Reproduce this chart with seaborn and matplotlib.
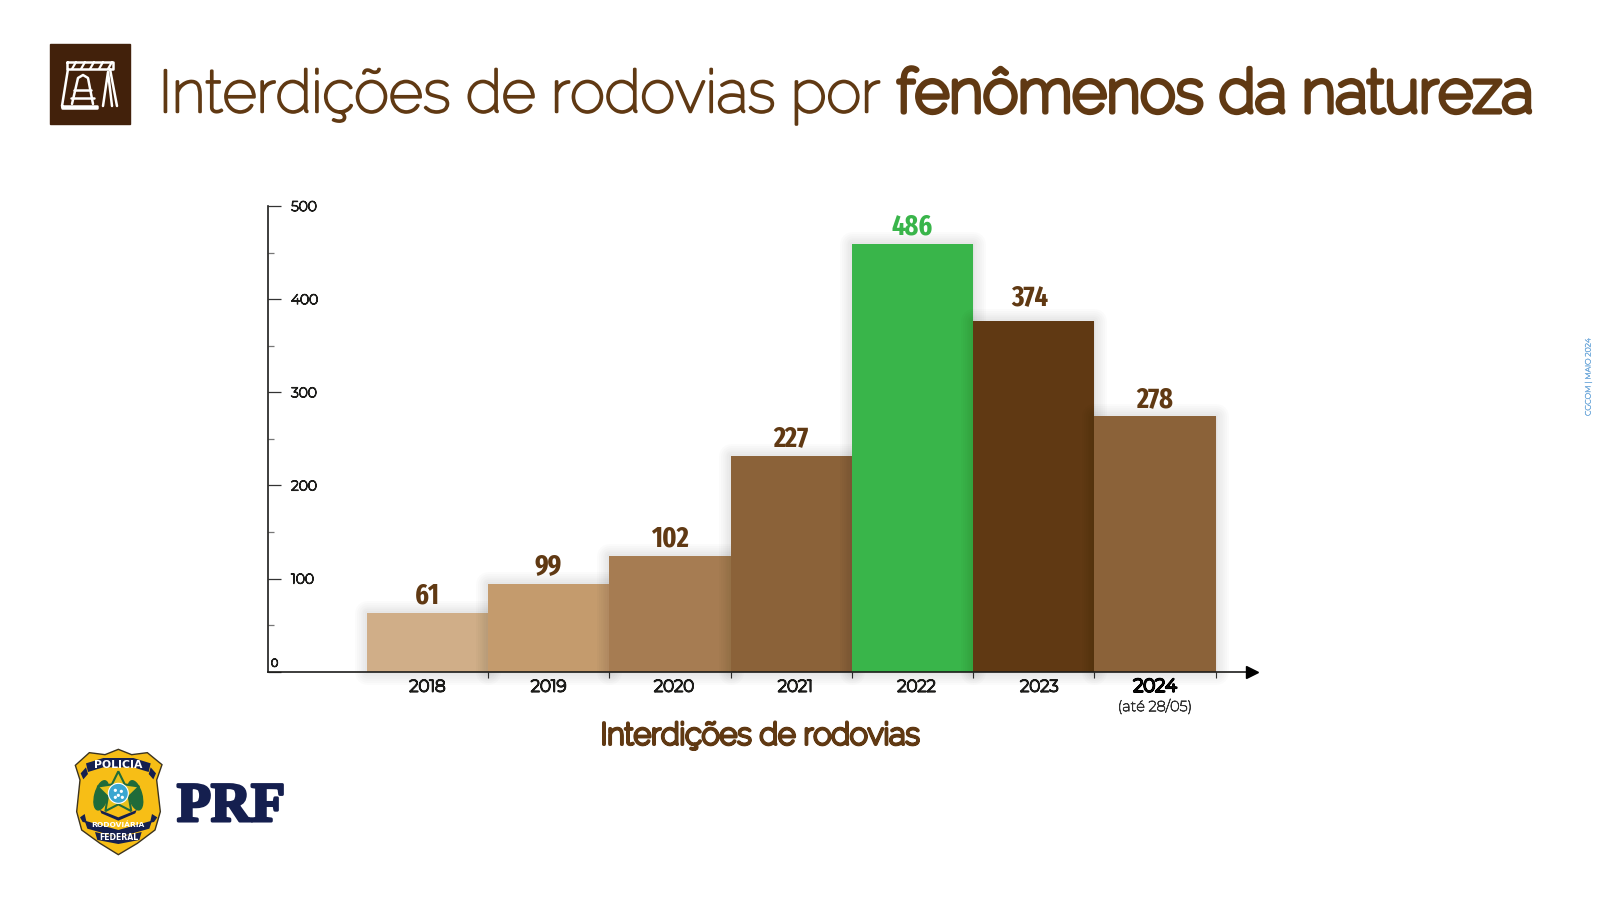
import numpy as np
import pandas as pd
import matplotlib
matplotlib.use("Agg")
import matplotlib.pyplot as plt
import matplotlib.patheffects as pe
from matplotlib.patches import Polygon, Rectangle, Circle, Ellipse
from matplotlib.ticker import FixedLocator
from matplotlib.transforms import ScaledTranslation
import seaborn as sns

# --- data -------------------------------------------------------------
years = ["2018", "2019", "2020", "2021", "2022", "2023", "2024"]
# Printed values
printed_values = ["61", "99", "102", "227", "486", "374", "278"]
# Bar heights as drawn in the source (not to scale with the printed values)
bar_heights = [63, 94, 124, 232, 459, 376, 274]
y_ticks = [0, 100, 200, 300, 400, 500]
y_minor_ticks = [50, 150, 250, 350, 450]
bar_colors = ["#D0AE88", "#C49B6D", "#A67C52", "#8B6239", "#39B54A", "#603913", "#8B6239"]

title_light = "Interdições de rodovias por"
title_bold = "fenômenos da natureza"
x_title = "Interdições de rodovias"
x_note = "(até 28/05)"
side_note = "CGCOM | MAIO 2024"

BROWN = "#603913"
DARK = "#42210B"
GREEN = "#39B54A"
INK = "#1d1d1b"
NAVY = "#151F4F"
GOLD = "#F7BE16"

RALEWAY = ["Raleway", "Lato", "DejaVu Sans"]
MONT = ["Montserrat", "Inter", "DejaVu Sans"]
CONDENSED = ["Fira Sans Extra Condensed", "Fira Sans Condensed", "Roboto Condensed", "DejaVu Sans"]

sns.set_theme(style="white")
plt.rcParams["font.family"] = MONT

def heavy(txt, lw, color):
    # these families load at their thinnest weight; a same-colour stroke gives the weight
    txt.set_path_effects([pe.withStroke(linewidth=lw, foreground=color)])
    return txt

W, H = 1600, 900
fig = plt.figure(figsize=(16, 9), dpi=100, facecolor="white")

# --- chart ------------------------------------------------------------
x0, x1, y_base, y_top = 267.5, 1252, 671.7, 206
ax = fig.add_axes([x0 / W, 1 - y_base / H, (x1 - x0) / W, (y_base - y_top) / H])
ax.patch.set_alpha(0)
df = pd.DataFrame({"year": years, "height": bar_heights})
sns.barplot(data=df, x="year", y="height", hue="year", palette=bar_colors,
            legend=False, width=1, saturation=1, ax=ax)
ax.set_xlim(-1.318, 6.80)
ax.set_ylim(0, 500)
ax.set_ylabel("")

# soft drop shadow around each bar, later bars falling over earlier ones
shadow = [pe.Stroke(linewidth=lw, foreground="black", alpha=0.017, joinstyle="round")
          for lw in (18, 15, 12, 9, 6, 3)] + [pe.Normal()]
for p in ax.patches:
    p.set_edgecolor("none")
    p.set_clip_on(False)
    p.set_path_effects(shadow)

# printed values
for i, (cont, lab) in enumerate(zip(ax.containers, printed_values)):
    col = GREEN if lab == "486" else BROWN
    for t in ax.bar_label(cont, labels=[lab], padding=7, color=col, fontsize=20.5,
                          fontweight="bold", family=CONDENSED):
        t.set_va("baseline")
        if lab == "374":
            t.xyann = (-3, 12)

# axes
sns.despine(ax=ax, top=True, right=True)
for s in ("left", "bottom"):
    ax.spines[s].set_linewidth(1.2)
    ax.spines[s].set_color(INK)
ax.plot(1, 0, marker=">", ms=9, color="black", transform=ax.get_yaxis_transform(),
        clip_on=False, zorder=5)

ax.set_yticks(y_ticks)
ax.set_yticklabels([str(v) for v in y_ticks], ha="left")
ax.yaxis.set_minor_locator(FixedLocator(y_minor_ticks))
ax.tick_params(axis="y", which="major", left=True, direction="in", length=9.4, width=0.9,
               color="#333333", pad=-17, labelsize=10, labelcolor=INK)
ax.tick_params(axis="y", which="minor", left=True, direction="in", length=4.3, width=0.9,
               color="#777777")
for lab in ax.get_yticklabels():
    heavy(lab, 0.9, INK)
    if lab.get_text() == "0":
        lab.set_fontsize(8)
        lab.set_transform(lab.get_transform() + ScaledTranslation(-14.5 / 72, 6.5 / 72, fig.dpi_scale_trans))

ax.set_xticks(range(len(years)))
ax.set_xticklabels(years)
ax.xaxis.set_minor_locator(FixedLocator([i + 0.5 for i in range(len(years))]))
ax.tick_params(axis="x", which="major", bottom=False, pad=-1, labelsize=12, labelcolor=INK)
ax.tick_params(axis="x", which="minor", bottom=True, direction="out", length=4.5, width=0.8,
               color="#333333")
for lab, dx in zip(ax.get_xticklabels(), [0, 0, 3, 3, 3, 4, 0]):
    heavy(lab, 1.2, INK)
    lab.set_transform(lab.get_transform() + ScaledTranslation(dx / 72, 0, fig.dpi_scale_trans))
    if lab.get_text() == "2024":
        heavy(lab, 1.7, "black")
        lab.set_fontsize(13)

note = ax.annotate(x_note, xy=(6, 0), xycoords=("data", "axes fraction"), xytext=(0, -25),
                   textcoords="offset points", ha="center", va="center", fontsize=10.5, color="#333333")
heavy(note, 0.55, "#333333")
ax.set_xlabel(x_title, fontsize=22, color=BROWN, labelpad=20, family=RALEWAY)
heavy(ax.xaxis.label, 2.3, BROWN)

# --- decoration layer in pixel coordinates -----------------------------
deco = fig.add_axes([0, 0, 1, 1], zorder=10)
deco.set_xlim(0, W)
deco.set_ylim(H, 0)
deco.axis("off")
deco.patch.set_alpha(0)

# title
t1 = deco.text(159, 112, title_light, fontsize=42.5, color=BROWN, family=RALEWAY, va="baseline", ha="left")
heavy(t1, 1.8, BROWN)
t2 = deco.text(897, 112, title_bold, fontsize=43, color=BROWN, family=RALEWAY, va="baseline", ha="left")
heavy(t2, 3.7, BROWN)

# road-block icon
deco.add_patch(Rectangle((50, 44), 80, 80, color=DARK))
def ln(xs, ys, lw=1.8):
    deco.plot(xs, ys, color="white", lw=lw, solid_capstyle="round")
ln([67, 113, 113, 67, 67], [62, 62, 69, 69, 62])
for k in range(5):
    ln([72 + 9 * k, 76 + 9 * k], [69, 62], 1.6)
ln([68, 62], [69, 106]); ln([110, 117], [69, 106]); ln([103, 108, 112], [106, 72, 106])
ln([62, 97, 97, 62, 62], [106, 106, 108, 108, 106])
ln([72, 78, 83, 88, 93], [104, 78, 75, 78, 104])
ln([74, 91], [90, 90]); ln([71, 94], [98, 98])

# shield, outlined from the picture
def z(px, py):
    return 50 + px / 3, 730 + py / 3
shield = [(205, 58), (165, 74), (118, 68), (76, 106), (90, 150), (80, 245), (95, 300), (150, 340),
          (205, 374), (262, 340), (315, 300), (331, 245), (320, 150), (336, 104), (292, 68), (245, 74)]
deco.add_patch(Polygon([z(*q) for q in shield], closed=True, facecolor=GOLD, edgecolor="#3b3320", lw=1))
def band(pts):
    deco.add_patch(Polygon([z(*q) for q in pts], closed=True, facecolor=NAVY, edgecolor="none"))
band([(108, 100), (160, 84), (250, 84), (302, 100), (296, 126), (250, 112), (160, 112), (114, 126)])
band([(92, 130), (108, 112), (114, 132), (100, 148)]); band([(318, 130), (302, 112), (296, 132), (310, 148)])
band([(104, 272), (205, 300), (306, 272), (298, 296), (205, 322), (112, 296)])
band([(135, 306), (205, 322), (275, 306), (268, 330), (205, 342), (142, 330)])
band([(90, 262), (104, 252), (110, 278), (98, 276)]); band([(322, 262), (306, 252), (300, 278), (312, 276)])
cx, cy = z(205, 190)
for dx, ang in ((-17, 15), (17, -15)):
    deco.add_patch(Ellipse((cx + dx, cy + 2), 13, 30, angle=ang, color="#1F6B3A"))
star = [(cx + (22 if k % 2 == 0 else 11) * np.sin(k * np.pi / 5),
         cy - (22 if k % 2 == 0 else 11) * np.cos(k * np.pi / 5)) for k in range(10)]
deco.add_patch(Polygon(star, closed=True, facecolor="#E8C21C", edgecolor="#1F6B3A", lw=1.5))
deco.add_patch(Circle((cx, cy), 10, facecolor="#3AA6D0", edgecolor="white", lw=0.8))
for ddx, ddy in ((-3, -3), (3, -2), (0, 2), (-3, 4), (4, 4)):
    deco.add_patch(Circle((cx + ddx, cy + ddy), 0.9, color="white"))
band([(150, 240), (205, 262), (260, 240), (256, 250), (205, 272), (154, 250)])
bfam = ["DejaVu Sans"]
deco.text(*z(205, 104), "POLICIA", color="white", fontsize=7.8, fontweight="bold", family=bfam,
          ha="center", va="center")
deco.text(*z(205, 285), "RODOVIÁRIA", color="white", fontsize=5.4, fontweight="bold", family=bfam,
          ha="center", va="center")
deco.text(*z(205, 322), "FEDERAL", color="white", fontsize=5.6, fontweight="bold", family=bfam,
          ha="center", va="center")

# PRF wordmark
deco.text(177, 821, "PRF", color=NAVY, fontsize=40, fontweight="bold", family=["Liberation Serif", "DejaVu Serif"],
          ha="left", va="baseline",
          path_effects=[pe.withStroke(linewidth=2.2, foreground=NAVY)])

# side note
sn = deco.text(1588, 377, side_note, color="#7FB2DE", fontsize=5.5, rotation=90, ha="center", va="center")
heavy(sn, 0.4, "#7FB2DE")

fig.savefig("out.png", dpi=100, facecolor="white")
